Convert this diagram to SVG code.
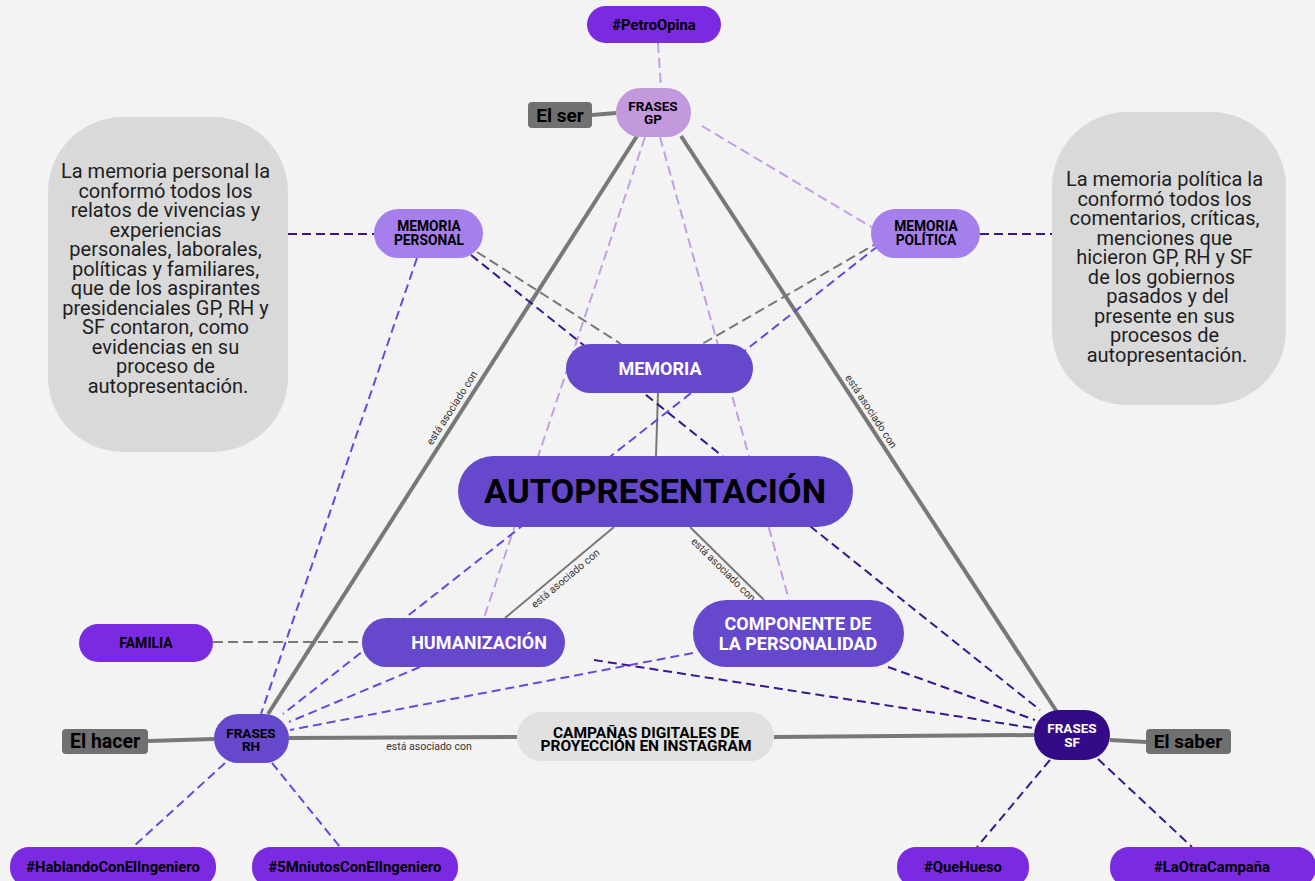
<svg xmlns="http://www.w3.org/2000/svg" width="1315" height="881" viewBox="0 0 1315 881">
<style>
.bg{fill:#f3f3f3}
.thick{stroke:#787878;stroke-width:4;fill:none}
.thin{stroke:#787878;stroke-width:2;fill:none}
.dl{stroke:#c49ee4;stroke-width:2;fill:none;stroke-dasharray:10 5}
.dg{stroke:#787878;stroke-width:2;fill:none;stroke-dasharray:10 5}
.dd{stroke:#3a168e;stroke-width:2;fill:none;stroke-dasharray:9 5}
.dm{stroke:#6548de;stroke-width:2;fill:none;stroke-dasharray:9 5}
.lbl{font-family:Roboto,"Liberation Sans",sans-serif;font-size:10.5px;fill:#333;text-anchor:middle}
.t{font-family:Roboto,"Liberation Sans",sans-serif;font-weight:bold;text-anchor:middle}
.body{font-family:Roboto,"Liberation Sans",sans-serif;font-size:20px;fill:#1e1e1e;text-anchor:middle}
.hash{fill:#7a2be2}
.mid{fill:#6648cc}
.lil{fill:#a57feb}
.gry{fill:#707070}
.box{fill:#d9d9d9}
</style>
<rect class="bg" x="0" y="0" width="1315" height="881"/>
<g id="connectors">
<line class="thick" x1="592" y1="115" x2="616" y2="113"/>
<line class="thick" x1="637" y1="136" x2="268" y2="714"/>
<line class="thick" x1="681" y1="136" x2="1057" y2="712"/>
<line class="thick" x1="148" y1="741" x2="214" y2="739"/>
<line class="thick" x1="289" y1="738" x2="517" y2="737"/>
<line class="thick" x1="774" y1="737" x2="1034" y2="735"/>
<line class="thick" x1="1110" y1="740" x2="1146" y2="742"/>
<line class="thin" x1="658" y1="393" x2="656" y2="456"/>
<line class="thin" x1="614" y1="527" x2="505" y2="618"/>
<line class="thin" x1="690" y1="527" x2="764" y2="600"/>
<line class="dl" x1="658" y1="43" x2="661" y2="88"/>
<line class="dl" x1="702" y1="126" x2="873" y2="228"/>
<line class="dl" x1="645" y1="137" x2="484" y2="618"/>
<line class="dl" x1="660" y1="137" x2="789" y2="600"/>
<line class="dg" x1="477" y1="252" x2="621" y2="344"/>
<line class="dg" x1="881" y1="241" x2="702" y2="344"/>
<line class="dg" x1="213" y1="642" x2="362" y2="642"/>
<line class="dd" x1="288" y1="234" x2="374" y2="234"/>
<line class="dd" x1="980" y1="234" x2="1052" y2="234"/>
<line class="dd" x1="471" y1="255" x2="1040" y2="710"/>
<line class="dd" x1="594" y1="660" x2="1033" y2="728"/>
<line class="dd" x1="888" y1="667" x2="1035" y2="720"/>
<line class="dd" x1="1050" y1="760" x2="977" y2="847"/>
<line class="dd" x1="1098" y1="759" x2="1192" y2="847"/>
<line class="dm" x1="417" y1="258" x2="261" y2="714"/>
<line class="dm" x1="878" y1="246" x2="283" y2="714"/>
<line class="dm" x1="420" y1="667" x2="289" y2="722"/>
<line class="dm" x1="693" y1="653" x2="290" y2="730"/>
<line class="dm" x1="225" y1="763" x2="133" y2="847"/>
<line class="dm" x1="272" y1="763" x2="340" y2="847"/>
<text class="lbl" transform="translate(460,413) rotate(-57.4)" x="0" y="-6">está asociado con</text>
<text class="lbl" transform="translate(864,416) rotate(56.9)" x="0" y="-5">está asociado con</text>
<text class="lbl" transform="translate(560,572) rotate(-39.9)" x="0" y="12">está asociado con</text>
<text class="lbl" transform="translate(728,565) rotate(44.6)" x="0" y="10">está asociado con</text>
<text class="lbl" x="429" y="750">está asociado con</text>
</g>
<g id="petroopina">
<rect class="hash" x="587" y="6" width="134" height="37" rx="18.5"/>
<text class="t" x="654" y="29.5" font-size="14.8">#PetroOpina</text>
</g>
<g id="frases-gp">
<rect x="616" y="88" width="75" height="49" rx="24.5" fill="#c399de"/>
<text class="t" x="653" y="111" font-size="13.5">FRASES</text>
<text class="t" x="653" y="124" font-size="13.5">GP</text>
</g>
<g id="el-ser">
<rect class="gry" x="528" y="102" width="64" height="26" rx="4"/>
<text class="t" x="560" y="122" font-size="19">El ser</text>
</g>
<g id="texto-personal">
<rect class="box" x="48" y="117" width="240" height="335" rx="75"/>
<text class="body">
<tspan x="168" y="178">La memoria personal la</tspan>
<tspan x="168" y="197.5">conformó todos los</tspan>
<tspan x="168" y="217">relatos de vivencias y</tspan>
<tspan x="168" y="236.5">experiencias</tspan>
<tspan x="168" y="256">personales, laborales,</tspan>
<tspan x="168" y="275.5">políticas y familiares,</tspan>
<tspan x="168" y="295">que de los aspirantes</tspan>
<tspan x="168" y="314.5">presidenciales GP, RH y</tspan>
<tspan x="168" y="334">SF contaron, como</tspan>
<tspan x="168" y="353.5">evidencias en su</tspan>
<tspan x="168" y="373">proceso de</tspan>
<tspan x="168" y="392.5">autopresentación.</tspan>
</text>
</g>
<g id="texto-politica">
<rect class="box" x="1052" y="112" width="234" height="293" rx="75"/>
<text class="body">
<tspan x="1167" y="186">La memoria política la</tspan>
<tspan x="1167" y="205.5">conformó todos los</tspan>
<tspan x="1167" y="225">comentarios, críticas,</tspan>
<tspan x="1167" y="244.5">menciones que</tspan>
<tspan x="1167" y="264">hicieron GP, RH y SF</tspan>
<tspan x="1164" y="283.5">de los gobiernos</tspan>
<tspan x="1170" y="303">pasados y del</tspan>
<tspan x="1167" y="322.5">presente en sus</tspan>
<tspan x="1167" y="342">procesos de</tspan>
<tspan x="1167" y="361.5">autopresentación.</tspan>
</text>
</g>
<g id="memoria-personal">
<rect class="lil" x="374" y="209" width="109" height="49" rx="24.5"/>
<text class="t" x="429" y="231" font-size="13.8">MEMORIA</text>
<text class="t" x="429" y="245" font-size="13.8">PERSONAL</text>
</g>
<g id="memoria-politica">
<rect class="lil" x="871" y="209" width="109" height="49" rx="24.5"/>
<text class="t" x="926" y="231" font-size="13.8">MEMORIA</text>
<text class="t" x="926" y="245" font-size="13.8">POLÍTICA</text>
</g>
<g id="memoria">
<rect class="mid" x="566" y="344" width="187" height="49" rx="24.5"/>
<text class="t" x="660" y="374.5" font-size="18" fill="#fff">MEMORIA</text>
</g>
<g id="autopresentacion">
<rect class="mid" x="458" y="456" width="395" height="71" rx="35.5"/>
<text class="t" x="655" y="503" font-size="34" fill="#000" textLength="342" lengthAdjust="spacingAndGlyphs">AUTOPRESENTACIÓN</text>
</g>
<g id="humanizacion">
<rect class="mid" x="362" y="618" width="203" height="49" rx="24.5"/>
<text class="t" x="479" y="648.5" font-size="18" fill="#fff">HUMANIZACIÓN</text>
</g>
<g id="componente">
<rect class="mid" x="693" y="600" width="211" height="67" rx="33.5"/>
<text class="t" x="798" y="629.5" font-size="18" fill="#fff">COMPONENTE DE</text>
<text class="t" x="798" y="649.5" font-size="18" fill="#fff">LA PERSONALIDAD</text>
</g>
<g id="familia">
<rect class="hash" x="79" y="624" width="134" height="38" rx="19"/>
<text class="t" x="146" y="647.5" font-size="14">FAMILIA</text>
</g>
<g id="frases-rh">
<rect class="mid" x="214" y="714" width="75" height="49" rx="24.5"/>
<text class="t" x="251" y="737.5" font-size="13.5">FRASES</text>
<text class="t" x="251" y="750.5" font-size="13.5">RH</text>
</g>
<g id="el-hacer">
<rect class="gry" x="62" y="729" width="86" height="25" rx="4"/>
<text class="t" x="105" y="748" font-size="19.5">El hacer</text>
</g>
<g id="campanas">
<rect x="517" y="712" width="257" height="49" rx="24.5" fill="#e1e1e1"/>
<text class="t" x="646" y="737.5" font-size="15.5">CAMPAÑAS DIGITALES DE</text>
<text class="t" x="646" y="751" font-size="15.5">PROYECCIÓN EN INSTAGRAM</text>
</g>
<g id="frases-sf">
<rect x="1034" y="710" width="76" height="50" rx="25" fill="#330b86"/>
<text class="t" x="1072" y="733" font-size="13.5" fill="#fff">FRASES</text>
<text class="t" x="1072" y="747" font-size="13.5" fill="#fff">SF</text>
</g>
<g id="el-saber">
<rect class="gry" x="1146" y="729" width="85" height="25" rx="4"/>
<text class="t" x="1188" y="748" font-size="19">El saber</text>
</g>
<g id="hablando">
<rect class="hash" x="10" y="847" width="206" height="40" rx="19"/>
<text class="t" x="113" y="871.5" font-size="14.8">#HablandoConElIngeniero</text>
</g>
<g id="cinco-minutos">
<rect class="hash" x="252" y="847" width="206" height="40" rx="19"/>
<text class="t" x="355" y="871.5" font-size="14.8">#5MniutosConElIngeniero</text>
</g>
<g id="quehueso">
<rect class="hash" x="897" y="847" width="132" height="40" rx="19"/>
<text class="t" x="963" y="871.5" font-size="14.8">#QueHueso</text>
</g>
<g id="laotracampana">
<rect class="hash" x="1110" y="847" width="206" height="40" rx="19"/>
<text class="t" x="1212" y="871.5" font-size="14.8">#LaOtraCampaña</text>
</g>
</svg>
